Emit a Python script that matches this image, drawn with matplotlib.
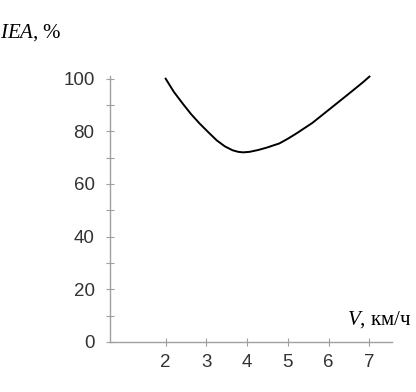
import numpy as np
import matplotlib.pyplot as plt

# данные
v = [2.0, 2.2, 2.42, 2.62, 2.83, 3.05, 3.25, 3.45, 3.64, 3.78, 3.9, 4.06, 4.27, 4.48, 4.79,
     5.0, 5.21, 5.6, 6.02, 6.44, 6.83, 7.0]
iea = [100, 95.0, 90.5, 86.6, 83.0, 79.6, 76.6, 74.3, 72.8, 72.2, 72.0, 72.2, 72.9, 73.8, 75.4,
       77.2, 79.2, 83.2, 88.4, 93.6, 98.5, 100.8]
xticks = [2, 3, 4, 5, 6, 7]
yticks = [0, 20, 40, 60, 80, 100]

plt.rcParams['mathtext.fontset'] = 'custom'
plt.rcParams['mathtext.it'] = 'Liberation Serif:italic'
plt.rcParams['mathtext.rm'] = 'Liberation Serif'

fig = plt.figure(figsize=(4.16, 3.92), dpi=100)
ax = fig.add_axes([0.264, 0.128, 0.678, 0.678])

ax.plot(v, iea, color='black', lw=1.4, clip_on=False, solid_joinstyle='round')

ax.set_xlim(0.63, 7.55)
ax.set_ylim(0, 101)
ax.set_xticks(xticks)
ax.set_yticks(yticks)
ax.set_yticks([10, 30, 50, 70, 90], minor=True)

for s in ['top', 'right']:
    ax.spines[s].set_visible(False)
for s in ['left', 'bottom']:
    ax.spines[s].set_color('#a0a0a0')
    ax.spines[s].set_linewidth(1.0)

ax.tick_params(axis='both', which='both', direction='inout', length=6,
               width=0.8, color='#a0a0a0', labelcolor='#333333',
               labelsize=13.5, labelfontfamily='Liberation Sans')
ax.tick_params(axis='x', pad=6)
ax.tick_params(axis='y', pad=8)

fig.text(0.0, 0.905, r'$\mathit{IEA}$, %', fontsize=15,
         family='Liberation Serif', ha='left', va='baseline')
fig.text(0.835, 0.172, r'$\mathit{V}$, км/ч', fontsize=15,
         family='Liberation Serif', ha='left', va='baseline')

fig.savefig('out.png', dpi=100)
